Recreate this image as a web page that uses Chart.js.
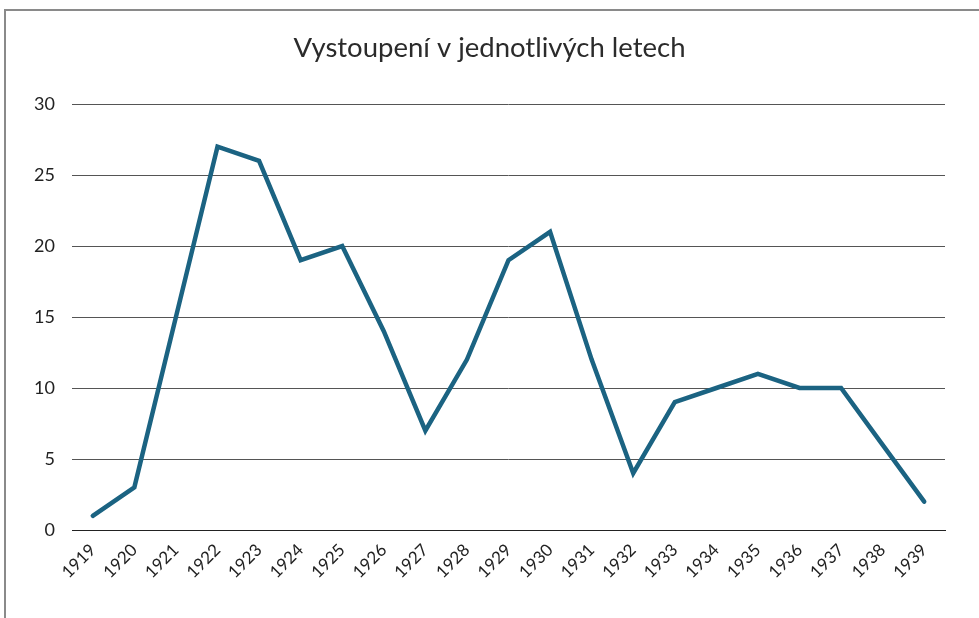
<!DOCTYPE html>
<html>
<head>
<meta charset="utf-8">
<script src="https://cdn.jsdelivr.net/npm/chart.js@4"></script>
<style>
	html, body { margin: 0; padding: 0; background: #fff; overflow: hidden; }
	#frame {
		position: absolute; left: 4px; top: 9px; width: 1000px; height: 700px;
		border: 2px solid #8a8a8a; box-sizing: border-box;
	}
	#wrap { position: absolute; left: 0; top: 0; width: 979px; height: 618px; }
</style>
</head>
<body>
<div id="frame"></div>
<div id="wrap"><canvas id="yearChart" width="979" height="618"></canvas></div>
<script>
// data block
const years = ['1919', '1920', '1921', '1922', '1923', '1924', '1925', '1926', '1927', '1928',
	'1929', '1930', '1931', '1932', '1933', '1934', '1935', '1936', '1937', '1938', '1939'];
const appearances = [1, 3, 15, 27, 26, 19, 20, 14, 7, 12, 19, 21, 12, 4, 9, 10, 11, 10, 10, 6, 2];
const yTicks = [0, 5, 10, 15, 20, 25, 30];

// config block
const config = {
	type: 'line',
	data: {
		labels: years,
		datasets: [
			{
				label: 'Vystoupení',
				data: appearances,
				borderColor: '#1b6382',
				backgroundColor: '#1b6382',
				borderWidth: 4.5,
				pointRadius: 0,
				tension: 0,
				borderCapStyle: 'round',
				borderJoinStyle: 'miter',
			},
		],
	},
	options: {
		responsive: false,
		animation: false,
		layout: { padding: 0 },
		plugins: {
			legend: { display: false },
			tooltip: { enabled: false },
			title: {
				display: true,
				text: 'Vystoupení v jednotlivých letech',
				color: '#2b2b2b',
				font: { family: 'Lato', size: 27.5, weight: 'normal' },
				padding: { top: 32, bottom: 39 },
			},
		},
		scales: {
			x: {
				offset: true,
				grid: { display: false, drawTicks: false },
				border: { display: true, color: '#222', width: 1 },
				ticks: {
					color: '#222',
					font: { family: 'Lato', size: 17 },
					minRotation: 45,
					maxRotation: 45,
					padding: 10,
					autoSkip: false,
				},
				afterFit: (scale) => { scale.height = 88; },
			},
			y: {
				min: 0,
				max: 30,
				afterBuildTicks: (scale) => { scale.ticks = yTicks.map((v) => ({ value: v })); },
				grid: { color: '#555', lineWidth: 1, drawTicks: false },
				border: { display: false },
				ticks: {
					color: '#222',
					font: { family: 'Lato', size: 18 },
					padding: 17,
				},
				afterFit: (scale) => { scale.width = 72; },
			},
			// empty right axis, only keeps the plot clear of the right edge
			yRight: {
				position: 'right',
				min: 0,
				max: 30,
				grid: { display: false },
				border: { display: false },
				ticks: { display: false },
				afterFit: (scale) => { scale.width = 34; },
			},
		},
	},
};

// render block
const myChart = new Chart(document.getElementById('yearChart'), config);
</script>
</body>
</html>
